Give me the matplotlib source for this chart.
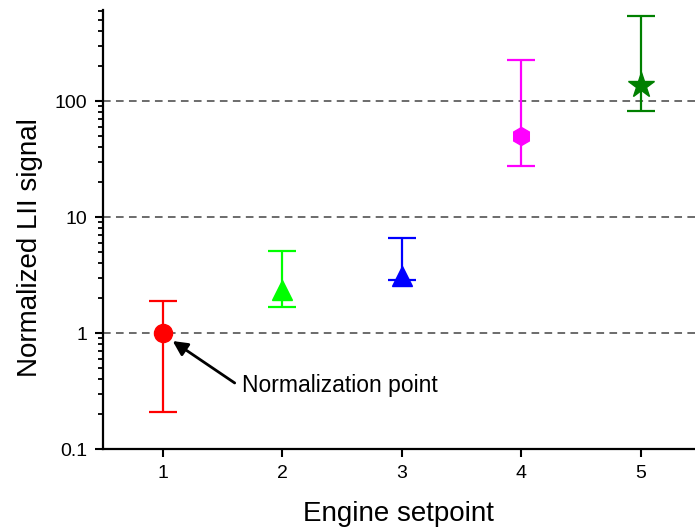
import matplotlib
matplotlib.use("Agg")
import numpy as np
import matplotlib.pyplot as plt
from matplotlib.ticker import LogLocator, NullFormatter

""" Normalized LII signal per engine setpoint """

setpoints = [1, 2, 3, 4, 5]
signal = [1.0, 2.35, 3.13, 50.0, 137.0]
err_low = [0.21, 1.68, 2.86, 27.4, 82.5]
err_high = [1.9, 5.1, 6.6, 227.0, 541.0]
colors = ['#ff0000', '#00ff00', '#0000ff', '#ff00ff', '#008000']
markers = ['o', '^', '^', 'h', '*']
msizes = [13, 15, 15, 13, 19]

plt.rcParams['font.family'] = ['Liberation Sans', 'DejaVu Sans']

fig = plt.figure(figsize=(6.95, 5.31), dpi=100)
ax = fig.add_axes([0.148, 0.1544, 0.852, 0.8266])

for x, y, lo, hi, c, m, ms in zip(setpoints, signal, err_low, err_high, colors, markers, msizes):
    ax.errorbar([x], [y], yerr=[[y - lo], [hi - y]], fmt=m, color=c, ms=ms,
                mec=c, mfc=c, ecolor=c, elinewidth=1.6, capsize=10, capthick=1.6,
                zorder=3)

ax.set_yscale('log')
ax.set_xlim(0.5, 5.454)
ax.set_ylim(0.1, 608)

for v in [1, 10, 100]:
    ax.axhline(v, color='#444444', lw=1.1, ls=(0, (5, 3.5)), zorder=1)

ax.set_xticks(setpoints)
ax.set_yticks([0.1, 1, 10, 100])
ax.set_yticklabels(['0.1', '1', '10', '100'])
ax.yaxis.set_minor_locator(LogLocator(base=10, subs=np.arange(2, 10)))
ax.yaxis.set_minor_formatter(NullFormatter())

for side in ['top', 'right']:
    ax.spines[side].set_visible(False)
for side in ['left', 'bottom']:
    ax.spines[side].set_linewidth(1.6)

ax.tick_params(axis='both', which='major', direction='out', length=6, width=1.5,
               labelsize=14, pad=5.5, colors='black')
ax.tick_params(axis='y', which='minor', direction='out', length=3.5, width=1.3)
ax.tick_params(axis='x', which='minor', bottom=False)

ax.set_xlabel('Engine setpoint', fontsize=20, labelpad=14)
ax.set_ylabel('Normalized LII signal', fontsize=20, labelpad=8)
ax.yaxis.label.set_y(0.46)

ax.annotate('', xy=(1.084, 0.853), xytext=(1.603, 0.371),
            arrowprops=dict(arrowstyle='-|>', lw=2, color='black', mutation_scale=22,
                            shrinkA=0, shrinkB=0))
ax.text(1.661, 0.356, 'Normalization point', fontsize=16.5, ha='left', va='center')

fig.savefig('out.png', dpi=100)
